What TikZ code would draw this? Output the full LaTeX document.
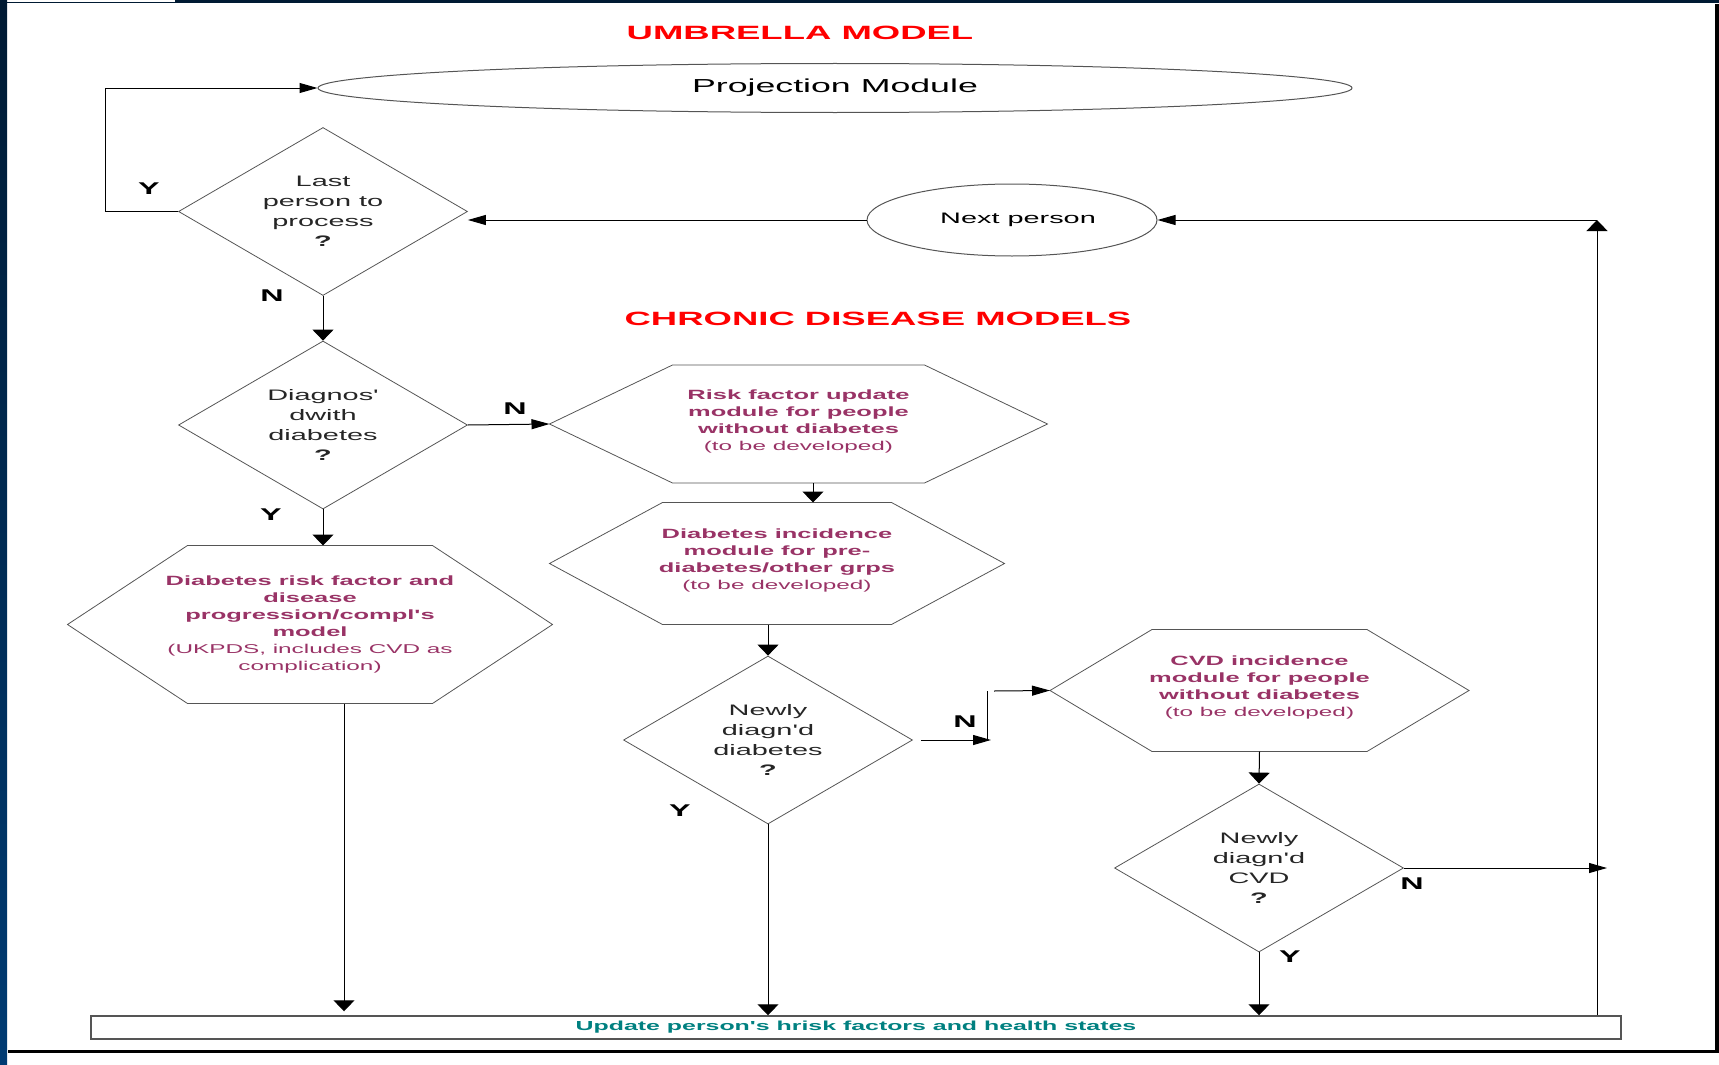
\documentclass[tikz,border=0pt]{standalone}
\usepackage{fontspec}
\setmainfont{Liberation Sans}[FakeStretch=1.9, Ligatures=TeXOff]
\usepackage{xcolor}
\usetikzlibrary{shapes.geometric}
\usetikzlibrary{arrows.meta}

\definecolor{navy}{HTML}{001A33}
\definecolor{barblue}{HTML}{003B73}
\definecolor{modred}{HTML}{FF0000}
\definecolor{plum}{HTML}{993366}
\definecolor{tealtext}{HTML}{008080}
\definecolor{edgegray}{HTML}{555555}

\newcommand{\titlefont}{\fontsize{19.2pt}{23pt}\selectfont\bfseries}
\newcommand{\ovalfont}{\fontsize{18.8pt}{22pt}\selectfont}
\newcommand{\askfont}{\fontsize{15.2pt}{20pt}\selectfont}
\newcommand{\hexfont}{\fontsize{13.4pt}{17pt}\selectfont}
\newcommand{\notefont}{\fontsize{12.8pt}{17pt}\selectfont}
\newcommand{\ynfont}{\fontsize{17pt}{20pt}\selectfont\bfseries}
\newcommand{\barfont}{\fontsize{13.1pt}{16pt}\selectfont\bfseries}

\begin{document}
\begin{tikzpicture}[x=1pt, y=-1pt, line width=1pt,
    hto/.style={-{Triangle[length=18pt,width=10pt]}},
    vto/.style={-{Triangle[length=11pt,width=21pt]}},
    decision/.style={diamond, draw=edgegray, line width=0.8pt, inner sep=0pt,
	shape aspect=1.72, minimum width=289pt, minimum height=168pt,
	align=center, text=black!85, font=\askfont},
    oval/.style={ellipse, draw=edgegray, line width=1pt, inner sep=0pt},
    hexbox/.style={rectangle, inner sep=0pt, align=center, text=plum, font=\hexfont},
    hexline/.style={draw=edgegray, line width=0.8pt},
    yn/.style={font=\ynfont},
    title/.style={text=modred, font=\titlefont}]
    \useasboundingbox (0,0) rectangle (1719,1065);

    % frame of the slide
    \shade [top color=navy, bottom color=barblue] (0,0) rectangle (7,1065);
    \fill [navy] (175,0) rectangle (1719,3.5);
    \fill [navy] (7,2.5) rectangle (175,3.5);
    \fill [black] (1715,4) rectangle (1719,1053);
    \fill [black] (8,1050) rectangle (1719,1053);

    \path (800, 33) node [title] (um) {UMBRELLA MODEL};
    \path (835, 88) node [oval, minimum width=1034pt, minimum height=49pt,
	font=\ovalfont] (pm) {Projection Module};
    \path (323, 211.5) node [decision] (d1) {Last\\person to\\process\\\textbf{?}};
    \path (1012, 220) node [oval, minimum width=290pt, minimum height=72pt,
	font=\askfont] (np) {\hspace{12pt}Next person};
    \path (878, 319) node [title] (cd) {CHRONIC DISEASE MODELS};

    \path (323, 425) node [decision] (d2) {Diagnos'\\dwith\\diabetes\\\textbf{?}};
    \path (798.5, 424) node [hexbox, minimum width=497pt, minimum height=117pt] (h1)
	{\textbf{Risk factor update}\\\textbf{module for people}\\
	\textbf{without diabetes}\\{\notefont(to be developed)}\\[-9pt]};
    \path (777, 563.5) node [hexbox, minimum width=454pt, minimum height=121pt] (h2)
	{\textbf{Diabetes incidence}\\\textbf{module for pre-}\\
	\textbf{diabetes/other grps}\\{\notefont(to be developed)}\\[-9pt]};
    \path (310, 624.5) node [hexbox, minimum width=484pt, minimum height=157pt] (h0)
	{\textbf{Diabetes risk factor and}\\\textbf{disease}\\
	\textbf{progression/compl's}\\\textbf{model}\\
	{\notefont(UKPDS, includes CVD as}\\{\notefont complication)}};
    \path (768, 740) node [decision] (d3) {Newly\\diagn'd\\diabetes\\\textbf{?}};
    \path (1259.5, 690.5) node [hexbox, minimum width=418pt, minimum height=121pt] (h3)
	{\textbf{CVD incidence}\\\textbf{module for people}\\
	\textbf{without diabetes}\\{\notefont(to be developed)}\\[-9pt]};
    \path (1259, 868) node [decision] (d4) {Newly\\diagn'd\\CVD\\\textbf{?}};
    \path (856, 1027.5) node [draw=edgegray, line width=1.5pt, inner sep=0pt,
	minimum width=1530pt, minimum height=23pt, text=tealtext, font=\barfont]
	(upd) {Update person's hrisk factors and health states};

    % hexagon outlines round the module boxes
    \foreach \h/\c in {h0/120, h1/123, h2/113, h3/102}
	\draw [hexline] (\h.west) -- ([xshift=\c]\h.north west) --
	([xshift=-\c]\h.north east) -- (\h.east) --
	([xshift=-\c]\h.south east) -- ([xshift=\c]\h.south west) -- cycle;

    % yes / no labels
    \path (149, 189) node [yn] (ly1) {Y};
    \path (272, 296) node [yn] (ln1) {N};
    \path (515, 409) node [yn] (ln2) {N};
    \path (271, 515) node [yn] (ly2) {Y};
    \path (680, 811) node [yn] (ly3) {Y};
    \path (965, 722) node [yn] (ln3) {N};
    \path (1412, 884) node [yn] (ln4) {N};
    \path (1290, 957) node [yn] (ly4) {Y};

    \coordinate (rc) at (1597, 220);
    \coordinate (nb) at (991, 740);
    \coordinate (nt) at (987, 691);
    \coordinate (nr) at (1607, 868);

    \draw [hto] (d1.west) -- ++(-73,0) |- (pm.west);
    \draw [hto] (np.west) -- (np.west -| d1.east);
    \draw [vto] (d1.south) -- (d2.north);
    \draw [hto] (d2.east) -- (h1.west);
    \draw [vto] (d2.south) -- (d2.south |- h0.north);
    \draw [vto] ([xshift=14.5]h1.south) -- ([xshift=14.5]h1.south |- h2.north);
    \draw [vto] (d3.north |- h2.south) -- (d3.north);
    \draw [vto, shorten >=4pt] ([xshift=34]h0.south) -- ([xshift=34]h0.south |- upd.north);
    \draw [vto] (d3.south) -- (d3.south |- upd.north);
    \draw [hto] ([xshift=8]d3.east) -- (nb);
    \draw (nt) -- (nt |- nb);
    \draw [hto] ([xshift=7]nt) -- (h3.west);
    \draw [vto] (h3.south) -- (d4.north);
    \draw [vto] (d4.south) -- (d4.south |- upd.north);
    \draw [hto] (d4.east) -- (nr);
    \draw [vto] (upd.north -| rc) -- (rc);
    \draw [hto] (rc) -- (np.east);
\end{tikzpicture}
\end{document}
